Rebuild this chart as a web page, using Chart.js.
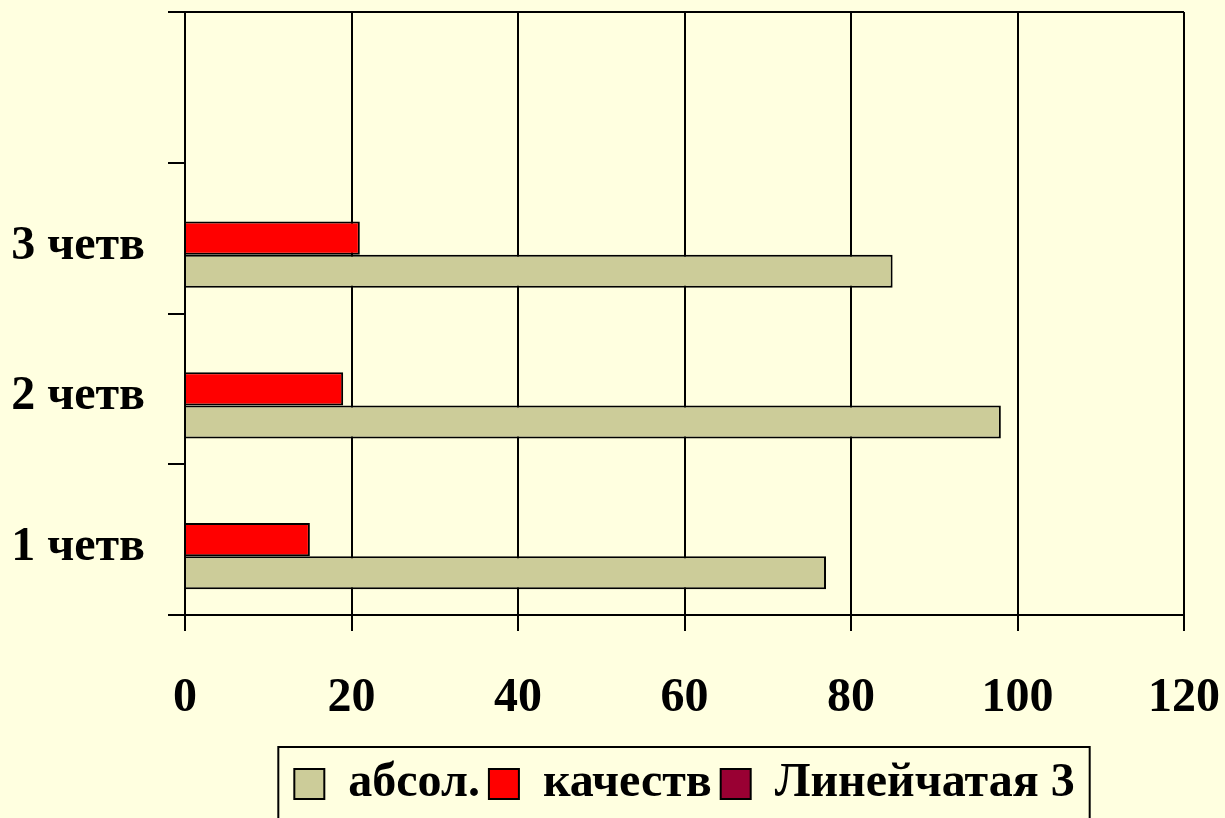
<!DOCTYPE html>
<html>
<head>
<meta charset="utf-8">
<script src="https://cdn.jsdelivr.net/npm/chart.js@4/dist/chart.umd.min.js"></script>
<style>
    body { margin: 0; background: #FFFFE0; }
    #chartQ { display: block; }
</style>
</head>
<body>
<canvas id="chartQ" width="1225" height="818"></canvas>
<script>
// categories bottom -> top (y axis is reversed)
const quarters = ['1 четв', '2 четв', '3 четв', ''];
const absol = [77, 98, 85, null];
const kachestv = [15, 19, 21, null];
const lineynaya3 = [null, null, null, null];
const xTicks = [0, 20, 40, 60, 80, 100, 120];

const FONT = '"Liberation Serif", "Times New Roman", serif';

//Border around the legend
const framePlugin = {
    id: 'frame',
    afterDraw(chart) {
        const ctx = chart.ctx;
        const boxes = chart.legend.legendHitBoxes;
        if (!boxes || !boxes.length) return;
        let left = Infinity, right = -Infinity, top = Infinity;
        boxes.forEach(b => {
            left = Math.min(left, b.left);
            right = Math.max(right, b.left + b.width);
            top = Math.min(top, b.top);
        });
        ctx.save();
        ctx.strokeStyle = '#000000';
        ctx.lineWidth = 2;
        ctx.strokeRect(left - 16, top - 13, (right - left) + 31, chart.height);
        ctx.restore();
    }
};

const ctx = document.getElementById('chartQ').getContext('2d');
const chart = new Chart(ctx, {
    type: 'bar',
    data: {
        labels: quarters,
        datasets: [
            {
                label: 'Линейчатая 3',
                data: lineynaya3,
                backgroundColor: '#990033',
                borderColor: '#000000',
                borderWidth: 2
            },
            {
                label: 'качеств',
                data: kachestv,
                backgroundColor: '#FF0000',
                borderColor: '#000000',
                borderWidth: 2
            },
            {
                label: 'абсол.',
                data: absol,
                backgroundColor: '#CCCC99',
                borderColor: '#000000',
                borderWidth: 2
            }
        ]
    },
    options: {
        indexAxis: 'y',
        responsive: false,
        animation: false,
        layout: { padding: { top: 12, right: 41, left: 0, bottom: 0 } },
        datasets: {
            bar: { categoryPercentage: 0.66, barPercentage: 1.0 }
        },
        scales: {
            x: {
                min: 0,
                max: 120,
                afterBuildTicks: scale => { scale.ticks = xTicks.map(v => ({ value: v })); },
                afterFit: scale => {
                    scale.height = 136;
                    scale.paddingLeft = 0;
                    scale.paddingRight = 0;
                },
                grid: { color: '#000000', lineWidth: 2, tickLength: 16, tickColor: '#000000' },
                border: { display: true, color: '#000000', width: 2 },
                ticks: {
                    color: '#000000',
                    padding: 39,
                    maxRotation: 0,
                    font: { family: FONT, size: 48, weight: 'bold' }
                }
            },
            y: {
                reverse: true,
                afterFit: scale => {
                    scale.width = 185;
                    scale.paddingTop = 0;
                    scale.paddingBottom = 0;
                },
                grid: {
                    // only the outer edges run across the plot
                    color: c => (c.type !== 'tick' || c.index === 0) ? '#000000' : 'rgba(0,0,0,0)',
                    tickColor: '#000000',
                    lineWidth: 2,
                    tickLength: 17
                },
                border: { display: true, color: '#000000', width: 2 },
                ticks: {
                    color: '#000000',
                    padding: 23,
                    labelOffset: 8,
                    font: { family: FONT, size: 48, weight: 'bold' }
                }
            }
        },
        plugins: {
            legend: {
                position: 'bottom',
                fullSize: false,
                reverse: true,
                labels: {
                    color: '#000000',
                    boxWidth: 30,
                    boxHeight: 30,
                    padding: 9,
                    font: { family: FONT, size: 48, weight: 'bold' }
                }
            },
            tooltip: { enabled: false }
        }
    },
    plugins: [framePlugin]
});
</script>
</body>
</html>
